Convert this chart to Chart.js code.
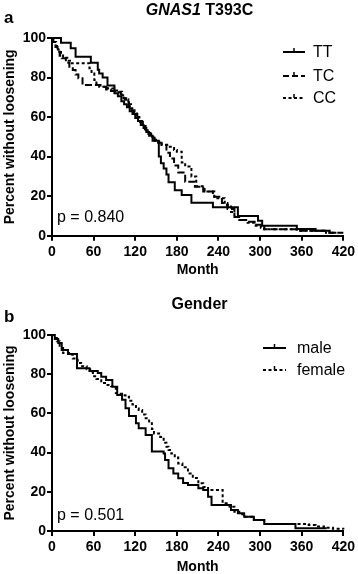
<!DOCTYPE html>
<html><head><meta charset="utf-8">
<script src="https://cdn.jsdelivr.net/npm/chart.js@4.4.1/dist/chart.umd.min.js"></script>
<style>
html,body{margin:0;padding:0;background:#fff;}
#wrap{position:relative;width:358px;height:574px;overflow:hidden;background:#fff;}
canvas{position:absolute;left:0;}
</style></head><body>
<div id="wrap">
<canvas id="ca" width="358" height="296" style="top:0px"></canvas>
<canvas id="cb" width="358" height="278" style="top:296px"></canvas>
</div>
<script>
// ---------- data ----------
const xTicks = [0, 60, 120, 180, 240, 300, 360, 420];
const yTicks = [0, 20, 40, 60, 80, 100];

// Panel a: GNAS1 T393C
const ttMonths = [0, 13, 27, 34, 56, 66, 68, 73, 80, 90, 95, 100, 104, 108, 112, 116, 120, 124, 128, 132, 136, 140, 145, 154, 157, 161, 165, 168, 177, 187, 201, 232, 268, 297, 303, 353, 380, 400, 410];
const ttValues = [100, 97.6, 94.8, 90.5, 87.5, 84, 82, 80, 76, 72, 70.5, 68, 66.5, 65, 63, 61.5, 59.5, 58, 56, 54.5, 52.5, 50.5, 48, 40, 36.6, 34, 31, 27, 23, 20.6, 16.7, 14.4, 10, 7.5, 5, 3.4, 2.5, 1.5, 1.5];

const tcMonths = [0, 2, 5, 8, 11, 14, 20, 25, 30, 34, 38, 44, 70, 78, 85, 92, 99, 103, 107, 111, 115, 119, 123, 127, 131, 135, 139, 143, 148, 153, 158, 165, 170, 176, 182, 192, 206, 218, 232, 245, 253, 263, 272, 282, 292, 301, 306, 353, 400, 420];
const tcValues = [100, 98, 95.5, 93, 91, 89.7, 87.5, 85.5, 83.8, 81.5, 79.6, 76.2, 75.4, 74, 73.2, 72.5, 71.5, 69.5, 67.5, 65.5, 63.5, 61.5, 59.5, 57.5, 55.5, 53.5, 51.5, 49.5, 48, 47, 45.9, 42, 39, 35.5, 32, 27.3, 24.8, 22.3, 19.7, 16.5, 13.5, 9.5, 8, 7, 5.5, 4.6, 3.2, 2.5, 1.5, 1.5];

const ccMonths = [0, 3, 6, 9, 13, 16, 22, 26, 54, 57, 61, 64, 68, 80, 90, 97, 101, 105, 110, 114, 118, 122, 126, 130, 134, 138, 142, 146, 150, 158, 168, 176, 180, 187, 192, 201, 208, 220, 234, 249, 258, 263, 270, 282, 292, 301, 306, 353, 395];
const ccValues = [100, 98, 96, 94, 92, 90, 88.5, 87.2, 84.7, 82, 78.8, 77, 75.4, 74.5, 73.5, 72.8, 71, 69, 66.5, 64.5, 62, 60, 58, 56, 54, 52, 50, 48.5, 47.5, 46, 45, 43.4, 42.5, 37, 35, 30, 25, 22.3, 19, 15.5, 12, 9.5, 8, 6.5, 5, 4, 3.2, 2.5, 1];

// Panel b: Gender
const maleMonths = [0, 4, 9, 14, 23, 36, 54, 66, 71, 78, 87, 94, 101, 106, 111, 121, 125, 135, 144, 161, 163, 168, 175, 182, 189, 196, 211, 218, 225, 230, 258, 268, 277, 291, 306, 351, 396];
const maleValues = [100, 98, 95.9, 92.3, 90.3, 83, 81.6, 80.6, 78.7, 77, 73.6, 69.4, 67, 62.6, 58.7, 55, 52.4, 49, 40.5, 39.5, 36.2, 32, 29.4, 26.9, 24.5, 23.5, 21.8, 20.9, 17.5, 13.3, 10.7, 9, 7.3, 5.6, 3.6, 1.4, 1.4];

const femaleMonths = [0, 3, 7, 11, 16, 26, 30, 37, 42, 50, 55, 59, 64, 71, 78, 85, 92, 96, 101, 106, 111, 116, 121, 125, 130, 135, 140, 144, 147, 156, 161, 165, 168, 172, 177, 182, 188, 196, 203, 211, 218, 225, 246, 256, 263, 270, 277, 291, 306, 370, 380, 392, 405, 420];
const femaleValues = [100, 98.5, 96.8, 93.4, 90.8, 90, 88, 85.7, 84, 82.5, 81, 78.9, 77.5, 75.5, 74.5, 73.8, 70.4, 70, 69.2, 68.5, 66.5, 64.5, 62.5, 61.7, 59.5, 57.5, 55, 52, 49.8, 48, 45, 43, 41.3, 39.5, 37.5, 34.5, 32.5, 29.4, 27, 24.3, 22.5, 20.9, 14.1, 12.4, 9.8, 8.5, 7.3, 5.6, 3.6, 3, 2.3, 1.6, 1.1, 0.8];

const yAxisTitle = 'Percent without loosening';
const xAxisTitle = 'Month';

// ---------- drawing ----------
const FONT = "'Liberation Sans', Arial, Helvetica, sans-serif";
Chart.defaults.font.family = FONT;
Chart.defaults.color = '#000';

const decor = {
  id: 'decor',
  afterDraw(chart, args, o) {
    const c = chart.ctx;
    c.save();
    c.fillStyle = '#000';
    c.strokeStyle = '#000';
    // panel letter
    c.textAlign = 'left';
    c.textBaseline = 'alphabetic';
    c.font = 'bold 17px ' + FONT;
    c.fillText(o.letter, 4, o.letterY);
    // title
    let total = 0;
    o.title.forEach(p => {
      c.font = (p.italic ? 'italic ' : '') + 'bold 16px ' + FONT;
      p.w = c.measureText(p.text).width;
      total += p.w;
    });
    let tx = o.titleX - total / 2;
    o.title.forEach(p => {
      c.font = (p.italic ? 'italic ' : '') + 'bold 16px ' + FONT;
      c.fillText(p.text, tx, o.titleY);
      tx += p.w;
    });
    // legend
    chart.data.datasets.forEach((ds, i) => {
      const y = o.legY[i];
      c.lineWidth = 2;
      c.setLineDash(ds.legendDash || []);
      c.beginPath();
      c.moveTo(o.legX0, y);
      c.lineTo(o.legX1, y);
      c.stroke();
      c.setLineDash([]);
      const mx = (o.legX0 + o.legX1) / 2;
      c.lineWidth = 1.5;
      c.beginPath();
      c.moveTo(mx, y);
      c.lineTo(mx, y - 4);
      c.stroke();
      c.font = '16px ' + FONT;
      c.textBaseline = 'middle';
      c.fillText(ds.label, o.legTextX, y + 1);
    });
    // p value
    c.textBaseline = 'alphabetic';
    c.font = '16px ' + FONT;
    c.fillText(o.pText, o.pX, o.pY);
    c.restore();
  }
};

function makePanel(id, cfg) {
  const el = document.getElementById(id);
  const H = el.height;
  const datasets = cfg.series.map(s => ({
    label: s.label,
    data: s.months.map((m, i) => ({ x: m, y: s.values[i] })),
    stepped: 'before',
    borderColor: '#000',
    borderWidth: 2,
    borderDash: s.dash,
    legendDash: s.legendDash,
    pointRadius: 0,
    fill: false,
    clip: 6
  }));
  return new Chart(el, {
    type: 'line',
    data: { datasets },
    options: {
      responsive: false,
      animation: false,
      devicePixelRatio: 1,
      layout: { padding: { left: 0, right: 11, top: cfg.top, bottom: 0 } },
      plugins: {
        legend: { display: false },
        tooltip: { enabled: false },
        decor: cfg.decor
      },
      scales: {
        x: {
          type: 'linear', min: 0, max: 420,
          afterBuildTicks: sc => { sc.ticks = xTicks.map(v => ({ value: v })); },
          afterFit: sc => { sc.height = H - cfg.bottom; },
          grid: { display: true, drawOnChartArea: false, drawTicks: true, tickLength: 5, lineWidth: 2, color: '#000' },
          border: { display: true, width: 2, color: '#000' },
          ticks: { color: '#000', font: { size: 14, weight: 'bold' }, padding: 3, maxRotation: 0, autoSkip: false },
          title: { display: true, text: xAxisTitle, color: '#000', font: { size: 14, weight: 'bold', lineHeight: 1 }, padding: { top: 0, bottom: cfg.monthPad } }
        },
        y: {
          type: 'linear', min: 0, max: 100,
          afterBuildTicks: sc => { sc.ticks = yTicks.map(v => ({ value: v })); },
          afterFit: sc => { sc.width = 52; },
          grid: { display: true, drawOnChartArea: false, drawTicks: true, tickLength: 5, lineWidth: 2, color: '#000' },
          border: { display: true, width: 2, color: '#000' },
          ticks: { color: '#000', font: { size: 14, weight: 'bold' }, padding: 1, autoSkip: false },
          title: { display: true, text: yAxisTitle, color: '#000', font: { size: 14, weight: 'bold', lineHeight: 1 }, padding: { top: 3, bottom: 0 } }
        }
      }
    },
    plugins: [decor]
  });
}

makePanel('ca', {
  top: 38, bottom: 235.7, monthPad: 19,
  series: [
    { label: 'TT', months: ttMonths, values: ttValues, dash: [], legendDash: [] },
    { label: 'TC', months: tcMonths, values: tcValues, dash: [7, 3], legendDash: [6, 3] },
    { label: 'CC', months: ccMonths, values: ccValues, dash: [3, 2.5], legendDash: [3, 2.5] }
  ],
  decor: {
    letter: 'a', letterY: 23,
    title: [{ text: 'GNAS1', italic: true }, { text: ' T393C', italic: false }],
    titleX: 199.5, titleY: 15,
    legX0: 283, legX1: 305, legTextX: 313, legY: [52, 76, 98],
    pText: 'p = 0.840', pX: 57, pY: 222
  }
});

makePanel('cb', {
  top: 39, bottom: 235, monthPad: 0,
  series: [
    { label: 'male', months: maleMonths, values: maleValues, dash: [], legendDash: [] },
    { label: 'female', months: femaleMonths, values: femaleValues, dash: [3, 2.5], legendDash: [3, 2.5] }
  ],
  decor: {
    letter: 'b', letterY: 25.5,
    title: [{ text: 'Gender', italic: false }],
    titleX: 199.5, titleY: 12.5,
    legX0: 263, legX1: 286, legTextX: 297, legY: [52, 74],
    pText: 'p = 0.501', pX: 57, pY: 224
  }
});
</script>
</body></html>
